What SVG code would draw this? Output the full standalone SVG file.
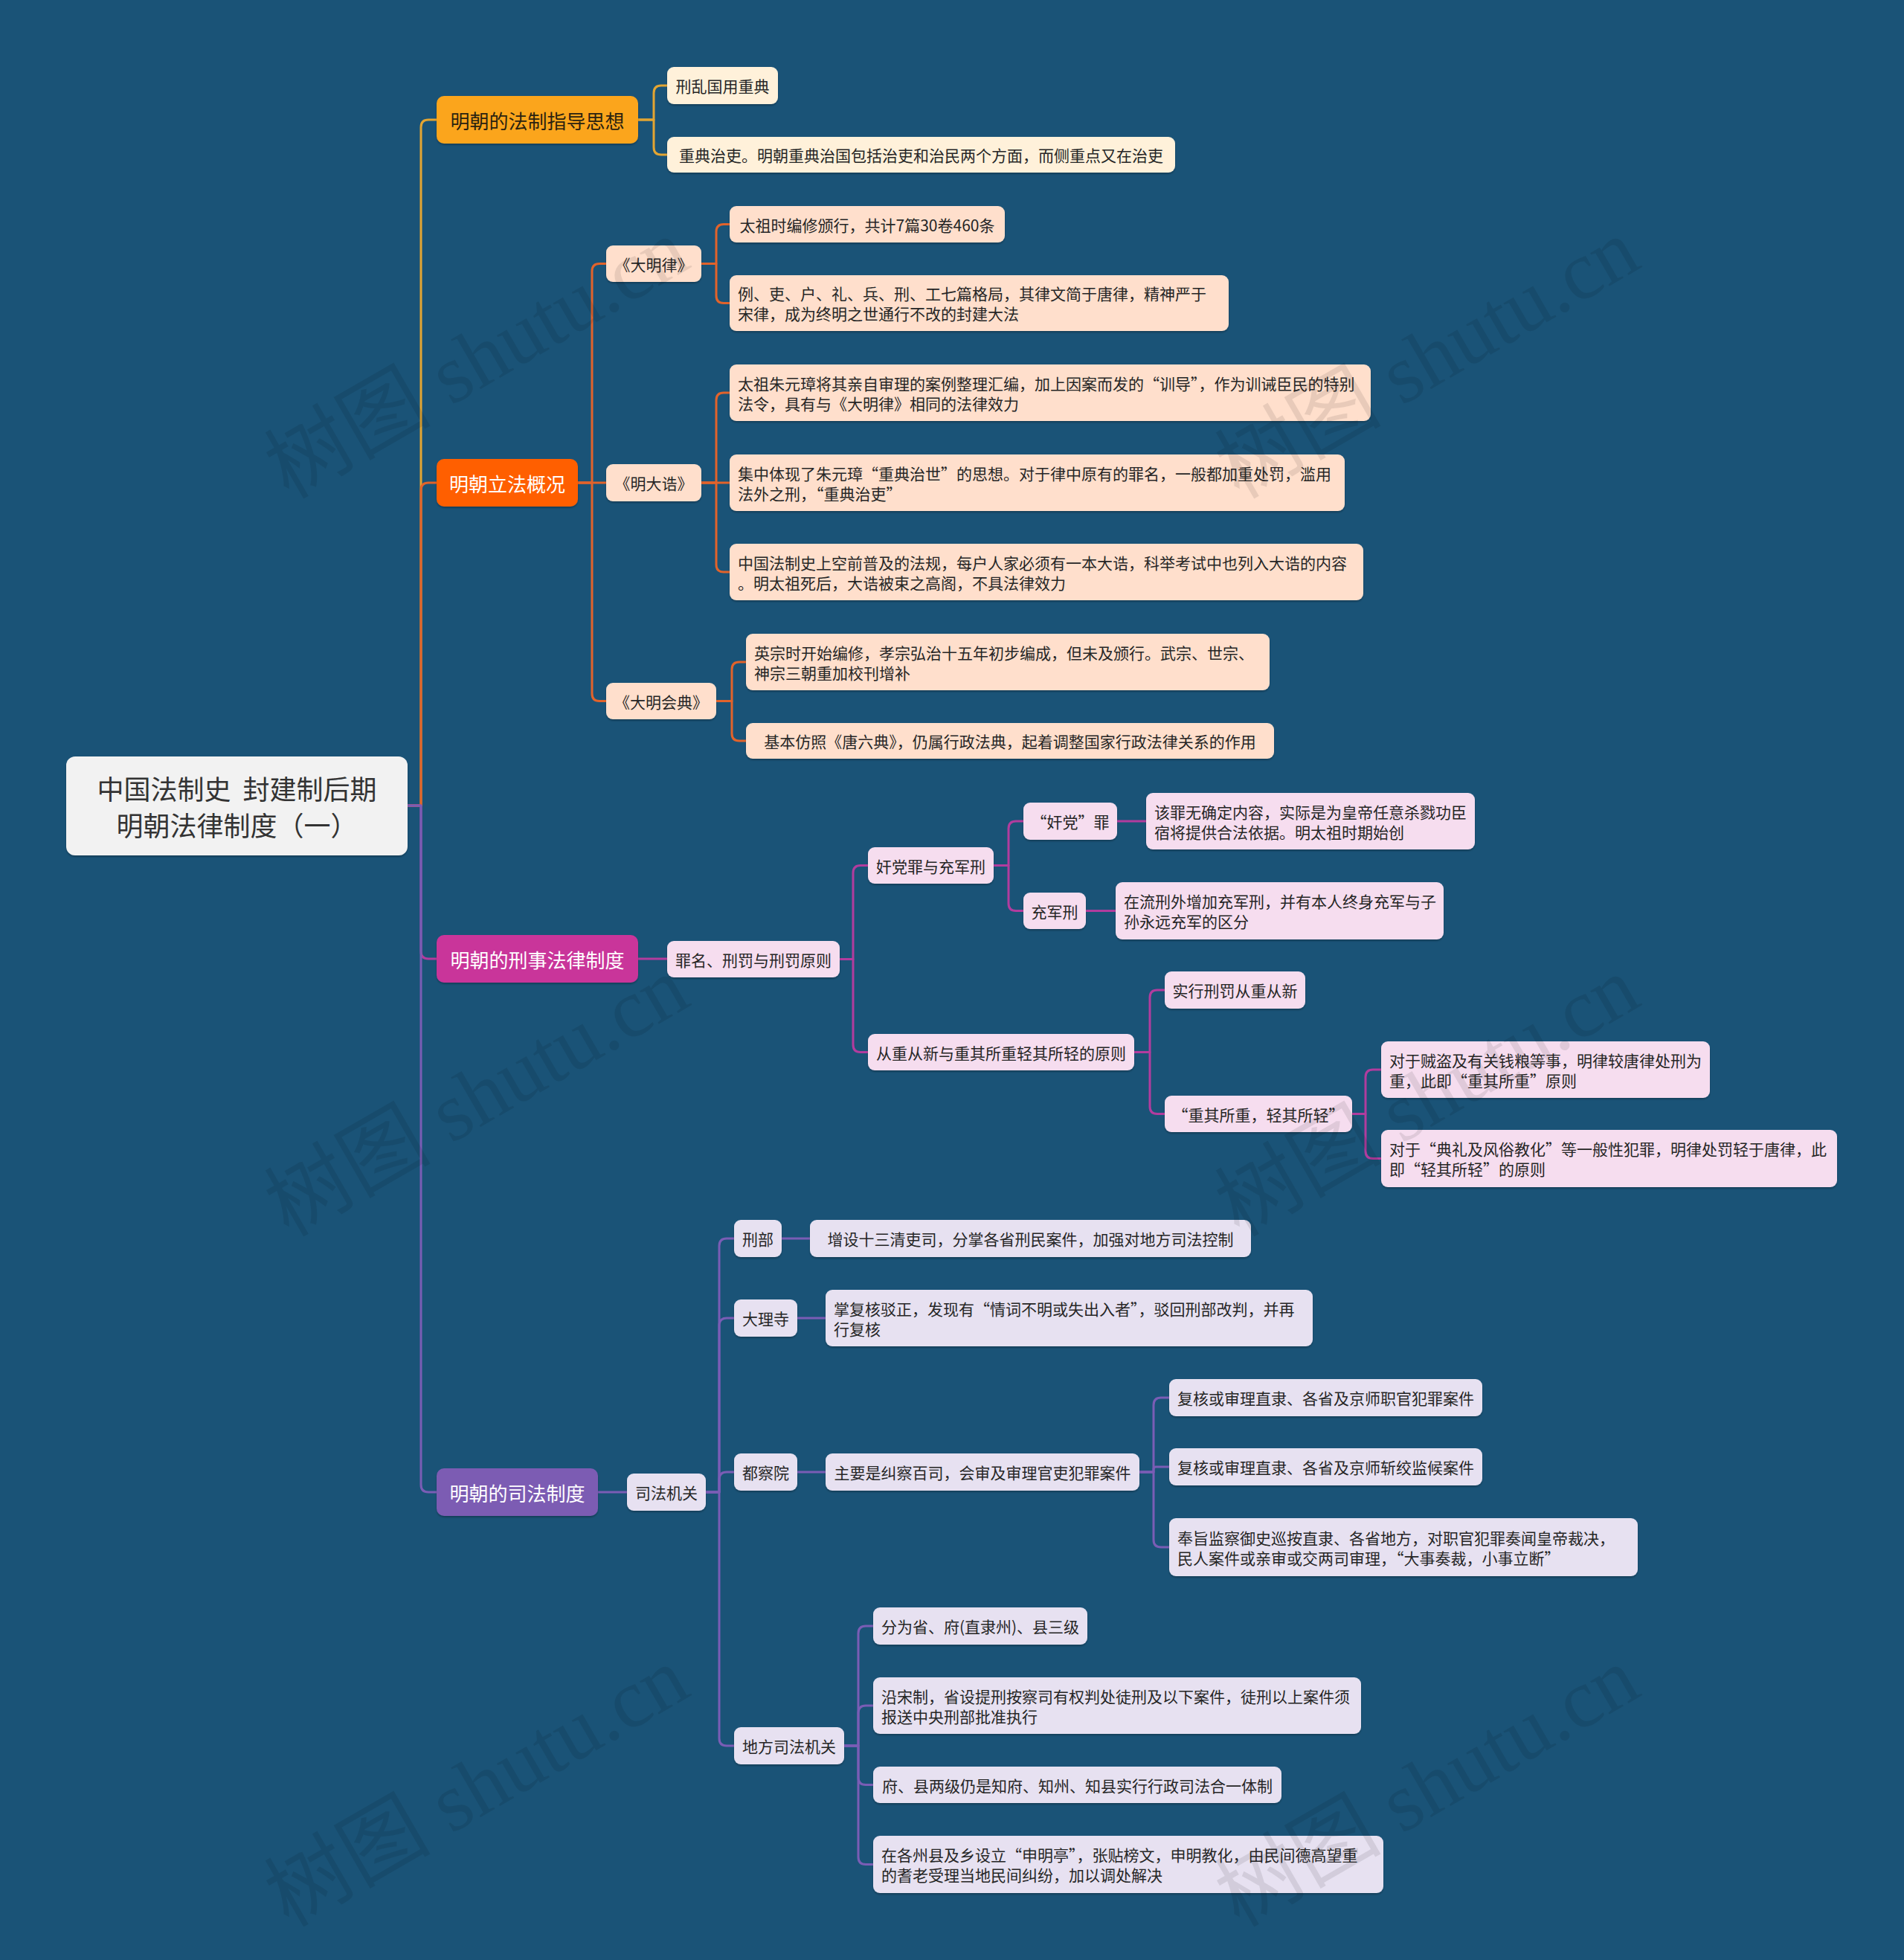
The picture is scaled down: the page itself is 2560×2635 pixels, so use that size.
<svg xmlns="http://www.w3.org/2000/svg" width="2560" height="2635" viewBox="0 0 2560 2635">
<style>
.t{font-family:"Noto Sans CJK SC","Microsoft YaHei",sans-serif;font-size:21px;fill:#262626;dominant-baseline:central}
.m{text-anchor:middle}
.b{font-size:26px}
.w{fill:#ffffff}
.l{fill:none;stroke-width:3;stroke-linecap:round;stroke-linejoin:round}
.y1{stroke:#E3A532}.y2{stroke:#E2632B}.y3{stroke:#B23C9E}.y4{stroke:#7A5DB5}
.n1{fill:#FFF1DA}.n2{fill:#FFDFCC}.n3{fill:#F6DDEF}.n4{fill:#E7E1F1}
.wm{font-family:"Liberation Serif","Noto Sans CJK SC",serif;font-size:112px;fill:#000;fill-opacity:0.09;text-anchor:middle}
</style>
<defs>
<filter id="sh" x="-5%" y="-10%" width="110%" height="130%">
<feDropShadow dx="0" dy="2" stdDeviation="1.2" flood-color="#000" flood-opacity="0.25"/>
</filter>
</defs>
<rect width="2560" height="2635" fill="#1A5377"/>
<g id="connectors">
<path class="l y1" d="M548,1083 H566 V171 Q566,161 576,161 H587"/>
<path class="l y2" d="M548,1083 H566 V659 Q566,649 576,649 H587"/>
<path class="l y3" d="M548,1083 H566 V1279 Q566,1289 576,1289 H587"/>
<path class="l y4" d="M548,1083 H566 V1996 Q566,2006 576,2006 H587"/>
<path class="l y1" d="M858,161 H879 V125 Q879,115 889,115 H897"/>
<path class="l y1" d="M858,161 H879 V198 Q879,208 889,208 H897"/>
<path class="l y2" d="M777,649 H796 V364.5 Q796,354.5 806,354.5 H815"/>
<path class="l y2" d="M777,649 H815"/>
<path class="l y2" d="M777,649 H796 V932.5 Q796,942.5 806,942.5 H815"/>
<path class="l y2" d="M943,354.5 H963 V311.5 Q963,301.5 973,301.5 H981"/>
<path class="l y2" d="M943,354.5 H963 V397.5 Q963,407.5 973,407.5 H981"/>
<path class="l y2" d="M943,649 H963 V538 Q963,528 973,528 H981"/>
<path class="l y2" d="M943,649 H981"/>
<path class="l y2" d="M943,649 H963 V759 Q963,769 973,769 H981"/>
<path class="l y2" d="M963,942.5 H984 V900 Q984,890 994,890 H1003"/>
<path class="l y2" d="M963,942.5 H984 V986 Q984,996 994,996 H1003"/>
<path class="l y3" d="M858,1289 H897"/>
<path class="l y3" d="M1129,1289.5 H1147 V1173.5 Q1147,1163.5 1157,1163.5 H1167"/>
<path class="l y3" d="M1129,1289.5 H1147 V1404.5 Q1147,1414.5 1157,1414.5 H1167"/>
<path class="l y3" d="M1336,1163.5 H1356 V1114 Q1356,1104 1366,1104 H1376"/>
<path class="l y3" d="M1336,1163.5 H1356 V1214.5 Q1356,1224.5 1366,1224.5 H1376"/>
<path class="l y3" d="M1502,1104 H1541"/>
<path class="l y3" d="M1460,1224.5 H1500"/>
<path class="l y3" d="M1525,1414.5 H1546 V1341 Q1546,1331 1556,1331 H1566"/>
<path class="l y3" d="M1525,1414.5 H1546 V1487.5 Q1546,1497.5 1556,1497.5 H1566"/>
<path class="l y3" d="M1818,1497.5 H1836 V1448 Q1836,1438 1846,1438 H1857"/>
<path class="l y3" d="M1818,1497.5 H1836 V1547.5 Q1836,1557.5 1846,1557.5 H1857"/>
<path class="l y4" d="M804,2006 H843"/>
<path class="l y4" d="M949,2006 H967 V1675 Q967,1665 977,1665 H987"/>
<path class="l y4" d="M949,2006 H967 V1782 Q967,1772 977,1772 H987"/>
<path class="l y4" d="M949,2006 H967 V1989 Q967,1979 977,1979 H987"/>
<path class="l y4" d="M949,2006 H967 V2337 Q967,2347 977,2347 H987"/>
<path class="l y4" d="M1051,1665 H1089"/>
<path class="l y4" d="M1072,1772 H1110"/>
<path class="l y4" d="M1072,1979 H1110"/>
<path class="l y4" d="M1532,1979 H1551 V1889 Q1551,1879 1561,1879 H1572"/>
<path class="l y4" d="M1532,1979 H1551 V1975 Q1551,1972 1554,1972 H1572"/>
<path class="l y4" d="M1532,1979 H1551 V2070 Q1551,2080 1561,2080 H1572"/>
<path class="l y4" d="M1135,2347 H1154 V2196 Q1154,2186 1164,2186 H1174"/>
<path class="l y4" d="M1135,2347 H1154 V2303 Q1154,2293 1164,2293 H1174"/>
<path class="l y4" d="M1135,2347 H1154 V2389.5 Q1154,2399.5 1164,2399.5 H1174"/>
<path class="l y4" d="M1135,2347 H1154 V2496.5 Q1154,2506.5 1164,2506.5 H1174"/>
</g>
<g id="root"><rect x="89" y="1017" width="459" height="133" rx="12" fill="#F2F2F2" filter="url(#sh)"/>
<text class="t m" x="318.5" y="1059" style="font-size:36px;fill:#333">中国法制史&#160;&#160;封建制后期</text>
<text class="t m" x="318.5" y="1108" style="font-size:36px;fill:#333">明朝法律制度（一）</text></g>

<g id="b1"><rect x="587" y="129" width="271" height="64" rx="10" fill="#FBA51F" filter="url(#sh)"/><text class="t m b" x="722.5" y="161" style="fill:#2a2210">明朝的法制指导思想</text></g>
<g id="b2"><rect x="587" y="617" width="190" height="64" rx="10" fill="#FF5F05" filter="url(#sh)"/><text class="t m b w" x="682" y="649">明朝立法概况</text></g>
<g id="b3"><rect x="587" y="1257" width="271" height="64" rx="10" fill="#C9359A" filter="url(#sh)"/><text class="t m b w" x="722.5" y="1289">明朝的刑事法律制度</text></g>
<g id="b4"><rect x="587" y="1974" width="217" height="64" rx="10" fill="#7C5CB3" filter="url(#sh)"/><text class="t m b w" x="695.5" y="2006">明朝的司法制度</text></g>

<g id="b1c1"><rect class="n1" x="897" y="90" width="149" height="50" rx="9" filter="url(#sh)"/><text class="t m" x="971.5" y="115">刑乱国用重典</text></g>
<g id="b1c2"><rect class="n1" x="897" y="184" width="683" height="48" rx="9" filter="url(#sh)"/><text class="t m" x="1238.5" y="208">重典治吏。明朝重典治国包括治吏和治民两个方面，而侧重点又在治吏</text></g>

<g id="b2c1"><rect class="n2" x="815" y="330" width="128" height="49" rx="9" filter="url(#sh)"/><text class="t m" x="879" y="354.5">《大明律》</text></g>
<g id="b2c2"><rect class="n2" x="815" y="624" width="128" height="50" rx="9" filter="url(#sh)"/><text class="t m" x="879" y="649">《明大诰》</text></g>
<g id="b2c3"><rect class="n2" x="815" y="918" width="148" height="49" rx="9" filter="url(#sh)"/><text class="t m" x="889" y="942.5">《大明会典》</text></g>

<g id="g1"><rect class="n2" x="981" y="277" width="370" height="49" rx="9" filter="url(#sh)"/><text class="t m" x="1166" y="301.5">太祖时编修颁行，共计7篇30卷460条</text></g>
<g id="g2"><rect class="n2" x="981" y="370" width="671" height="75" rx="9" filter="url(#sh)"/><text class="t" x="992" y="394">例、吏、户、礼、兵、刑、工七篇格局，其律文简于唐律，精神严于</text><text class="t" x="992" y="421">宋律，成为终明之世通行不改的封建大法</text></g>
<g id="g3"><rect class="n2" x="981" y="490" width="862" height="76" rx="9" filter="url(#sh)"/><text class="t" x="992" y="514.5">太祖朱元璋将其亲自审理的案例整理汇编，加上因案而发的“训导”，作为训诫臣民的特别</text><text class="t" x="992" y="541.5">法令，具有与《大明律》相同的法律效力</text></g>
<g id="g4"><rect class="n2" x="981" y="611" width="827" height="76" rx="9" filter="url(#sh)"/><text class="t" x="992" y="635.5">集中体现了朱元璋“重典治世”的思想。对于律中原有的罪名，一般都加重处罚，滥用</text><text class="t" x="992" y="662.5">法外之刑，“重典治吏”</text></g>
<g id="g5"><rect class="n2" x="981" y="731" width="852" height="76" rx="9" filter="url(#sh)"/><text class="t" x="992" y="755.5">中国法制史上空前普及的法规，每户人家必须有一本大诰，科举考试中也列入大诰的内容</text><text class="t" x="992" y="782.5">。明太祖死后，大诰被束之高阁，不具法律效力</text></g>
<g id="g6"><rect class="n2" x="1003" y="852" width="704" height="76" rx="9" filter="url(#sh)"/><text class="t" x="1014" y="876.5">英宗时开始编修，孝宗弘治十五年初步编成，但未及颁行。武宗、世宗、</text><text class="t" x="1014" y="903.5">神宗三朝重加校刊增补</text></g>
<g id="g7"><rect class="n2" x="1003" y="972" width="710" height="48" rx="9" filter="url(#sh)"/><text class="t m" x="1358" y="996">基本仿照《唐六典》，仍属行政法典，起着调整国家行政法律关系的作用</text></g>

<g id="r1"><rect class="n3" x="897" y="1265" width="232" height="49" rx="9" filter="url(#sh)"/><text class="t m" x="1013" y="1289.5">罪名、刑罚与刑罚原则</text></g>
<g id="s1"><rect class="n3" x="1167" y="1139" width="169" height="49" rx="9" filter="url(#sh)"/><text class="t m" x="1251.5" y="1163.5">奸党罪与充军刑</text></g>
<g id="s2"><rect class="n3" x="1167" y="1390" width="358" height="49" rx="9" filter="url(#sh)"/><text class="t m" x="1346" y="1414.5">从重从新与重其所重轻其所轻的原则</text></g>
<g id="t1"><rect class="n3" x="1376" y="1079" width="126" height="50" rx="9" filter="url(#sh)"/><text class="t m" x="1439" y="1104">“奸党”罪</text></g>
<g id="t2"><rect class="n3" x="1376" y="1200" width="84" height="49" rx="9" filter="url(#sh)"/><text class="t m" x="1418" y="1224.5">充军刑</text></g>
<g id="u1"><rect class="n3" x="1541" y="1066" width="442" height="76" rx="9" filter="url(#sh)"/><text class="t" x="1552" y="1090.5">该罪无确定内容，实际是为皇帝任意杀戮功臣</text><text class="t" x="1552" y="1117.5">宿将提供合法依据。明太祖时期始创</text></g>
<g id="u2"><rect class="n3" x="1500" y="1186" width="441" height="77" rx="9" filter="url(#sh)"/><text class="t" x="1511" y="1211">在流刑外增加充军刑，并有本人终身充军与子</text><text class="t" x="1511" y="1238">孙永远充军的区分</text></g>
<g id="t3"><rect class="n3" x="1566" y="1306" width="189" height="50" rx="9" filter="url(#sh)"/><text class="t m" x="1660.5" y="1331">实行刑罚从重从新</text></g>
<g id="t4"><rect class="n3" x="1566" y="1473" width="252" height="49" rx="9" filter="url(#sh)"/><text class="t m" x="1692" y="1497.5">“重其所重，轻其所轻”</text></g>
<g id="u3"><rect class="n3" x="1857" y="1400" width="442" height="76" rx="9" filter="url(#sh)"/><text class="t" x="1868" y="1424.5">对于贼盗及有关钱粮等事，明律较唐律处刑为</text><text class="t" x="1868" y="1451.5">重，此即“重其所重”原则</text></g>
<g id="u4"><rect class="n3" x="1857" y="1519" width="613" height="77" rx="9" filter="url(#sh)"/><text class="t" x="1868" y="1544">对于“典礼及风俗教化”等一般性犯罪，明律处罚轻于唐律，此</text><text class="t" x="1868" y="1571">即“轻其所轻”的原则</text></g>

<g id="q1"><rect class="n4" x="843" y="1981" width="106" height="50" rx="9" filter="url(#sh)"/><text class="t m" x="896" y="2006">司法机关</text></g>
<g id="q2"><rect class="n4" x="987" y="1640" width="64" height="50" rx="9" filter="url(#sh)"/><text class="t m" x="1019" y="1665">刑部</text></g>
<g id="q3"><rect class="n4" x="1089" y="1640" width="593" height="50" rx="9" filter="url(#sh)"/><text class="t m" x="1385.5" y="1665">增设十三清吏司，分掌各省刑民案件，加强对地方司法控制</text></g>
<g id="q4"><rect class="n4" x="987" y="1747" width="85" height="50" rx="9" filter="url(#sh)"/><text class="t m" x="1029.5" y="1772">大理寺</text></g>
<g id="q5"><rect class="n4" x="1110" y="1734" width="655" height="76" rx="9" filter="url(#sh)"/><text class="t" x="1121" y="1758.5">掌复核驳正，发现有“情词不明或失出入者”，驳回刑部改判，并再</text><text class="t" x="1121" y="1785.5">行复核</text></g>
<g id="q6"><rect class="n4" x="987" y="1954" width="85" height="50" rx="9" filter="url(#sh)"/><text class="t m" x="1029.5" y="1979">都察院</text></g>
<g id="q7"><rect class="n4" x="1110" y="1954" width="422" height="50" rx="9" filter="url(#sh)"/><text class="t m" x="1321" y="1979">主要是纠察百司，会审及审理官吏犯罪案件</text></g>
<g id="d1"><rect class="n4" x="1572" y="1854" width="421" height="50" rx="9" filter="url(#sh)"/><text class="t m" x="1782.5" y="1879">复核或审理直隶、各省及京师职官犯罪案件</text></g>
<g id="d2"><rect class="n4" x="1572" y="1947" width="421" height="50" rx="9" filter="url(#sh)"/><text class="t m" x="1782.5" y="1972">复核或审理直隶、各省及京师斩绞监候案件</text></g>
<g id="d3"><rect class="n4" x="1572" y="2041" width="630" height="78" rx="9" filter="url(#sh)"/><text class="t" x="1583" y="2066.5">奉旨监察御史巡按直隶、各省地方，对职官犯罪奏闻皇帝裁决，</text><text class="t" x="1583" y="2093.5">民人案件或亲审或交两司审理，“大事奏裁，小事立断”</text></g>
<g id="q8"><rect class="n4" x="987" y="2322" width="148" height="50" rx="9" filter="url(#sh)"/><text class="t m" x="1061" y="2347">地方司法机关</text></g>
<g id="e1"><rect class="n4" x="1174" y="2161" width="288" height="50" rx="9" filter="url(#sh)"/><text class="t m" x="1318" y="2186">分为省、府(直隶州)、县三级</text></g>
<g id="e2"><rect class="n4" x="1174" y="2255" width="656" height="76" rx="9" filter="url(#sh)"/><text class="t" x="1185" y="2279.5">沿宋制，省设提刑按察司有权判处徒刑及以下案件，徒刑以上案件须</text><text class="t" x="1185" y="2306.5">报送中央刑部批准执行</text></g>
<g id="e3"><rect class="n4" x="1174" y="2375" width="549" height="49" rx="9" filter="url(#sh)"/><text class="t m" x="1448.5" y="2399.5">府、县两级仍是知府、知州、知县实行行政司法合一体制</text></g>
<g id="e4"><rect class="n4" x="1174" y="2468" width="686" height="77" rx="9" filter="url(#sh)"/><text class="t" x="1185" y="2493">在各州县及乡设立“申明亭”，张贴榜文，申明教化，由民间德高望重</text><text class="t" x="1185" y="2520">的耆老受理当地民间纠纷，加以调处解决</text></g>

<g id="watermark">
<text class="wm" transform="translate(660,515) rotate(-30)">树图 shutu.cn</text>
<text class="wm" transform="translate(1938,515) rotate(-30)">树图 shutu.cn</text>
<text class="wm" transform="translate(660,1507) rotate(-30)">树图 shutu.cn</text>
<text class="wm" transform="translate(1938,1507) rotate(-30)">树图 shutu.cn</text>
<text class="wm" transform="translate(660,2435) rotate(-30)">树图 shutu.cn</text>
<text class="wm" transform="translate(1938,2435) rotate(-30)">树图 shutu.cn</text>
</g>
</svg>
